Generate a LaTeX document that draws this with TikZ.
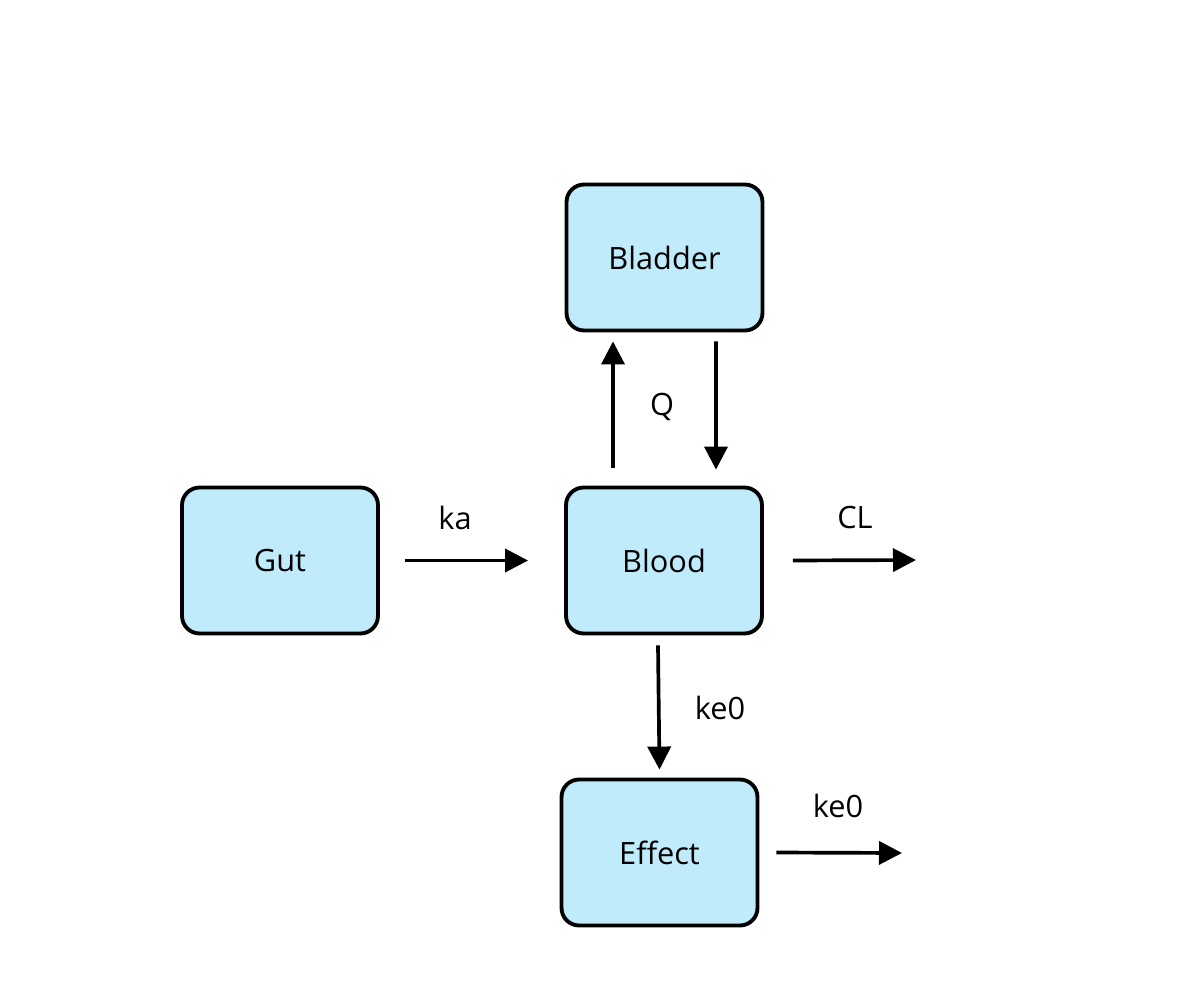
\documentclass[tikz,border=0pt]{standalone}
\usepackage{fontspec}
\setmainfont{Open Sans}
\usetikzlibrary{calc,arrows.meta}

\definecolor{boxblue}{RGB}{191,235,250}

\tikzset{
  compartment/.style={draw, line width=2.2pt, rounded corners=10pt, fill=boxblue,
    minimum width=3.92cm, minimum height=2.92cm, font=\fontsize{17.5}{20}\selectfont},
  flow/.style={line width=2.1pt, -{Triangle[length=0.46cm,width=0.46cm]}},
  rate/.style={font=\fontsize{17.5}{20}\selectfont}
}

\begin{document}
\begin{tikzpicture}[x=0.02cm, y=-0.02cm]
      \useasboundingbox (0,0) rectangle (1200,1000);

      \node[compartment] (bladder) at (664.5,257.5) {Bladder};
      \node[compartment] (gut) at (280,560.5) {Gut};
      \node[compartment] (blood) at (664,560.5) {Blood};
      \node[compartment] (effect) at (659.5,852.5) {Effect};

      \coordinate (clout) at (916,560);
      \coordinate (effout) at (902,853);

      \node[rate] (ka) at (455,518) {ka};
      \node[rate] (cl) at (855,518) {CL};
      \node[rate] (q) at (662,407) {Q};
      \node[rate] (keblood) at (720,708) {ke0};
      \node[rate] (keeff) at (838,806) {ke0};

      \draw[flow] ($(gut.east)+(25,0)$) -- ($(blood.west)+(-36,0)$);
      \draw[flow] ($(blood.east)+(29,0)$) -- (clout);
      \draw[flow] ($(blood.north)+(-51,-18)$) -- ($(bladder.south)+(-51.5,9)$);
      \draw[flow] ($(bladder.south)+(51.5,9)$) -- ($(blood.north)+(52,-16)$);
      \draw[flow] ($(blood.south)+(-6,10)$) -- ($(effect.north)+(0,-8)$);
      \draw[flow] ($(effect.east)+(17,0)$) -- (effout);
\end{tikzpicture}
\end{document}
